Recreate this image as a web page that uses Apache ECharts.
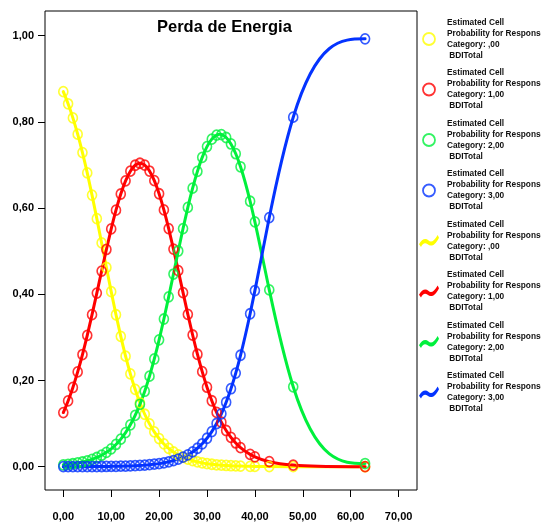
<!DOCTYPE html>
<html>
<head>
<meta charset="utf-8">
<script src="https://cdn.jsdelivr.net/npm/echarts@6/dist/echarts.min.js"></script>
<style>
  html, body { margin: 0; padding: 0; background: #fff; }
  #chart { width: 541px; height: 525px; }
</style>
</head>
<body>
<div id="chart"></div>
<script>
// BDI total scores with estimated cell probabilities per response category
const bdiTotal = [0, 1, 2, 3, 4, 5, 6, 7, 8, 9, 10, 11, 12, 13, 14, 15, 16, 17, 18, 19,
  20, 21, 22, 23, 24, 25, 26, 27, 28, 29, 30, 31, 32, 33, 34, 35, 36, 37, 39, 40, 43, 48, 63];

const probCat0 = [0.8699, 0.8418, 0.8091, 0.7713, 0.7287, 0.6814, 0.6300, 0.5754, 0.5190, 0.4621,
  0.4061, 0.3525, 0.3024, 0.2565, 0.2155, 0.1795, 0.1483, 0.1217, 0.0994, 0.0808,
  0.0654, 0.0528, 0.0425, 0.0341, 0.0273, 0.0219, 0.0175, 0.0140, 0.0112, 0.0089,
  0.0071, 0.0057, 0.0045, 0.0036, 0.0029, 0.0023, 0.0018, 0.0015, 0.0009, 0.0007,
  0.0004, 0.0001, 0.0000];

const probCat1 = [0.1256, 0.1526, 0.1838, 0.2198, 0.2602, 0.3047, 0.3526, 0.4028, 0.4538, 0.5039,
  0.5516, 0.5950, 0.6325, 0.6630, 0.6855, 0.6992, 0.7039, 0.6994, 0.6858, 0.6634,
  0.6331, 0.5956, 0.5523, 0.5048, 0.4547, 0.4037, 0.3535, 0.3055, 0.2609, 0.2204,
  0.1844, 0.1530, 0.1261, 0.1032, 0.0840, 0.0681, 0.0551, 0.0443, 0.0286, 0.0230,
  0.0117, 0.0038, 0.0001];

const probCat2 = [0.0044, 0.0055, 0.0069, 0.0087, 0.0109, 0.0137, 0.0171, 0.0214, 0.0267, 0.0334,
  0.0415, 0.0516, 0.0639, 0.0790, 0.0971, 0.1189, 0.1448, 0.1751, 0.2101, 0.2499,
  0.2943, 0.3426, 0.3938, 0.4469, 0.5003, 0.5524, 0.6014, 0.6460, 0.6851, 0.7175,
  0.7425, 0.7598, 0.7692, 0.7704, 0.7636, 0.7486, 0.7260, 0.6957, 0.6157, 0.5678,
  0.4101, 0.1854, 0.0074];

const probCat3 = [0.0001, 0.0001, 0.0001, 0.0002, 0.0002, 0.0002, 0.0003, 0.0004, 0.0005, 0.0006,
  0.0008, 0.0010, 0.0012, 0.0015, 0.0019, 0.0024, 0.0030, 0.0037, 0.0047, 0.0059,
  0.0072, 0.0090, 0.0113, 0.0141, 0.0177, 0.0221, 0.0276, 0.0344, 0.0428, 0.0532,
  0.0660, 0.0815, 0.1002, 0.1228, 0.1495, 0.1809, 0.2172, 0.2585, 0.3548, 0.4085,
  0.5779, 0.8107, 0.9924];

const categoryLabels = [',00', '1,00', '2,00', '3,00'];
const xTicks = [0, 10, 20, 30, 40, 50, 60, 70];
const yTicks = [0, 0.2, 0.4, 0.6, 0.8, 1.0];

// styling
const colors = ['#ffff00', '#ff0000', '#00f03c', '#0433ff'];
const FONT = '"Liberation Sans", Arial, sans-serif';
const squiggle = 'path://M0,8 C2,4 5,3 7,5 C9,7 11,6 14,1 L15,3 C12,9 9,10 6.5,8 C4.5,6.5 3,7 1.5,10 Z';

const categories = [probCat0, probCat1, probCat2, probCat3];
const pairs = c => bdiTotal.map((x, i) => [x, categories[c][i]]);

// Natural cubic spline through the points, expressed as one cubic Bezier per interval
// (exact, since each piece is a cubic in x and the axis mapping is linear).
function splineBeziers(pts) {
  const n = pts.length;
  const h = [], s = [];
  for (let i = 0; i < n - 1; i++) {
    h[i] = pts[i + 1][0] - pts[i][0];
    s[i] = (pts[i + 1][1] - pts[i][1]) / h[i];
  }
  const M = new Array(n).fill(0);
  const cp = [], dp = [];
  // tridiagonal solve for interior second derivatives (Thomas algorithm)
  for (let i = 1; i < n - 1; i++) {
    const a = h[i - 1], b = 2 * (h[i - 1] + h[i]), c = h[i], r = 6 * (s[i] - s[i - 1]);
    const m = b - (i > 1 ? a * cp[i - 1] : 0);
    cp[i] = c / m;
    dp[i] = (r - (i > 1 ? a * dp[i - 1] : 0)) / m;
  }
  for (let i = n - 2; i >= 1; i--) {
    M[i] = dp[i] - cp[i] * (i < n - 2 ? M[i + 1] : 0);
  }
  const segs = [];
  for (let i = 0; i < n - 1; i++) {
    const dL = s[i] - h[i] * (2 * M[i] + M[i + 1]) / 6;
    const dR = s[i] + h[i] * (2 * M[i + 1] + M[i]) / 6;
    segs.push([
      [pts[i][0] + h[i] / 3, pts[i][1] + dL * h[i] / 3],
      [pts[i + 1][0] - h[i] / 3, pts[i + 1][1] - dR * h[i] / 3],
      pts[i + 1]
    ]);
  }
  return segs;
}

const legendText = {};
const series = [];
const legendData = [];
const entryText = c => 'Estimated Cell\nProbability for Response\nCategory: ' + categoryLabels[c] + '\n BDITotal';

categories.forEach((_, c) => {
  const name = 'pts' + c;
  legendText[name] = entryText(c);
  series.push({
    name, type: 'scatter', data: pairs(c), z: 3,
    symbol: 'circle', symbolSize: [9, 10],
    itemStyle: { color: 'rgba(0,0,0,0)', borderColor: colors[c], borderWidth: 1.7 }
  });
  legendData.push({ name, icon: 'circle',
    itemStyle: { color: 'rgba(0,0,0,0)', borderColor: colors[c], borderWidth: 1.8 } });
});

categories.forEach((_, c) => {
  const name = 'line' + c;
  const data = pairs(c);
  const segs = splineBeziers(data);
  legendText[name] = entryText(c);
  series.push({
    name, type: 'custom', data, z: 2,
    itemStyle: { color: colors[c] },
    renderItem: (params, api) => {
      if (params.dataIndex !== 0) return null;
      const p0 = api.coord(data[0]);
      let d = 'M' + p0[0] + ' ' + p0[1];
      segs.forEach(seg => {
        const a = api.coord(seg[0]), b = api.coord(seg[1]), e = api.coord(seg[2]);
        d += ' C' + a[0] + ' ' + a[1] + ' ' + b[0] + ' ' + b[1] + ' ' + e[0] + ' ' + e[1];
      });
      return {
        type: 'path',
        shape: { pathData: d },
        style: { fill: 'none', stroke: colors[c], lineWidth: 3, lineJoin: 'round', lineCap: 'round' }
      };
    }
  });
  legendData.push({ name, icon: squiggle, itemStyle: { color: colors[c], borderWidth: 0 } });
});

const fmt = v => v.toFixed(2).replace('.', ',');

const chart = echarts.init(document.getElementById('chart'), null, { renderer: 'canvas' });
chart.setOption({
  animation: false,
  backgroundColor: '#fff',
  title: {
    text: 'Perda de Energia', left: 157, top: 19, padding: 0,
    textStyle: { fontFamily: FONT, fontSize: 16.5, fontWeight: 'bold', color: '#000' }
  },
  legend: {
    orient: 'vertical', left: 419, top: 17, padding: 0,
    itemWidth: 26, itemHeight: 12, itemGap: 6.5,
    selectedMode: false,
    data: legendData,
    formatter: n => legendText[n],
    textStyle: { fontFamily: FONT, fontSize: 8.3, fontWeight: 'bold', color: '#111', lineHeight: 11 }
  },
  grid: {
    left: 45, right: 124, top: 11, bottom: 35,
    show: true, borderColor: '#000', borderWidth: 1, backgroundColor: '#fff'
  },
  xAxis: {
    type: 'value', min: -3.82, max: 73.84,
    axisLine: { show: false, onZero: false },
    splitLine: { show: false },
    axisTick: { show: true, inside: false, length: 7, customValues: xTicks, lineStyle: { color: '#000' } },
    axisLabel: { customValues: xTicks, formatter: fmt, margin: 21,
      fontFamily: FONT, fontSize: 11, fontWeight: 'bold', color: '#000' }
  },
  yAxis: {
    type: 'value', min: -0.054, max: 1.057,
    axisLine: { show: false, onZero: false },
    splitLine: { show: false },
    axisTick: { show: true, inside: false, length: 7, customValues: yTicks, lineStyle: { color: '#000' } },
    axisLabel: { customValues: yTicks, formatter: fmt, margin: 11,
      fontFamily: FONT, fontSize: 11, fontWeight: 'bold', color: '#000' }
  },
  series
});
</script>
</body>
</html>
